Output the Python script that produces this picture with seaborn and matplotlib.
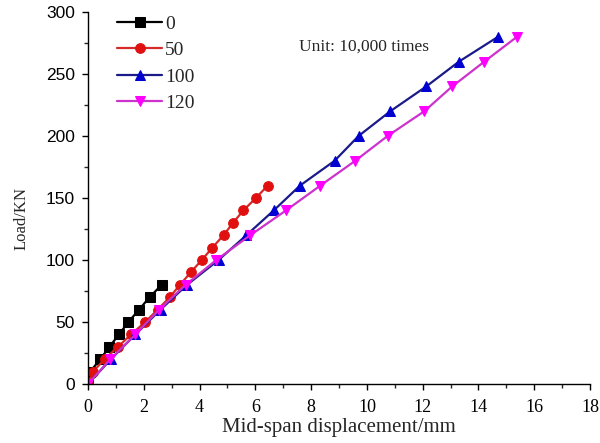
import matplotlib
matplotlib.use("Agg")
import matplotlib.pyplot as plt
import seaborn as sns
import numpy as np
from matplotlib.ticker import MultipleLocator

sns.set_theme(style="ticks")
plt.rcParams['font.family'] = ['Liberation Serif', 'DejaVu Serif']
plt.rcParams['mathtext.fontset'] = 'stix'

# Data (10,000 cycles)
labels = ["0", "50", "100", "120"]
disp_0 = [0, 0.08, 0.44, 0.77, 1.11, 1.45, 1.83, 2.21, 2.64]
load_0 = [0, 10, 20, 30, 40, 50, 60, 70, 80]
disp_50 = [0, 0.18, 0.6, 1.07, 1.55, 2.05, 2.5, 2.93, 3.3, 3.68, 4.08, 4.46, 4.86, 5.2, 5.57, 6.02, 6.44]
load_50 = [0, 10, 20, 30, 40, 50, 60, 70, 80, 90, 100, 110, 120, 130, 140, 150, 160]
disp_100 = [0, 0.82, 1.7, 2.6, 3.55, 4.68, 5.68, 6.66, 7.6, 8.84, 9.7, 10.84, 12.13, 13.3, 14.7]
load_100 = [0, 20, 40, 60, 80, 100, 120, 140, 160, 180, 200, 220, 240, 260, 280]
disp_120 = [0, 0.8, 1.7, 2.55, 3.5, 4.6, 5.82, 7.1, 8.33, 9.58, 10.74, 12.06, 13.06, 14.21, 15.38]
load_120 = [0, 20, 40, 60, 80, 100, 120, 140, 160, 180, 200, 220, 240, 260, 280]

series = [(disp_0, load_0), (disp_50, load_50), (disp_100, load_100), (disp_120, load_120)]
line_colors = ["#000000", "#d42a2a", "#1a1a8a", "#cc33cc"]
face_colors = ["#000000", "#e01010", "#0000d0", "#ff00ff"]
markers = ["s", "o", "^", "v"]

fig = plt.figure(figsize=(6.0, 4.43), dpi=100)
ax = fig.add_axes([0.1467, 0.1332, 0.8367, 0.8397])

for (x, y), lab, lc, fc, m in zip(series, labels, line_colors, face_colors, markers):
    sns.lineplot(x=x, y=y, ax=ax, sort=False, color=lc, marker=m, markersize=7,
                 markerfacecolor=fc, markeredgecolor=fc, linewidth=1.6, label=lab)

ax.set_xlim(0, 18)
ax.set_ylim(0, 300)
ax.xaxis.set_major_locator(MultipleLocator(2))
ax.xaxis.set_minor_locator(MultipleLocator(1))
ax.yaxis.set_major_locator(MultipleLocator(50))
ax.yaxis.set_minor_locator(MultipleLocator(25))
ax.tick_params(which='major', direction='out', length=4.5, width=1, labelsize=13,
               colors='black', pad=5)
ax.tick_params(axis='x', which='major', pad=6.5)
ax.tick_params(which='minor', direction='out', length=3, width=1)
for t in ax.get_yticklabels():
    t.set_fontfamily(['Liberation Sans', 'DejaVu Sans'])
    t.set_fontsize(12.5)
for s in ['top', 'right']:
    ax.spines[s].set_visible(False)
for s in ['left', 'bottom']:
    ax.spines[s].set_linewidth(1.0)
    ax.spines[s].set_color('black')

ax.set_xlabel("Mid-span displacement/mm", fontsize=15, labelpad=1)
ax.set_ylabel("Load/KN", fontsize=12, labelpad=12)
ax.yaxis.set_label_coords(-0.117, 0.446)

leg = ax.legend(loc='upper left', bbox_to_anchor=(0.043, 1.012), frameon=False, fontsize=14,
                handlelength=2.3, handletextpad=0.15, labelspacing=0.45, borderaxespad=0.0)

ax.text(0.42, 0.906, "Unit: 10,000 times", transform=ax.transAxes, fontsize=12.5,
        va='center', ha='left')

fig.savefig("out.png", dpi=100)
